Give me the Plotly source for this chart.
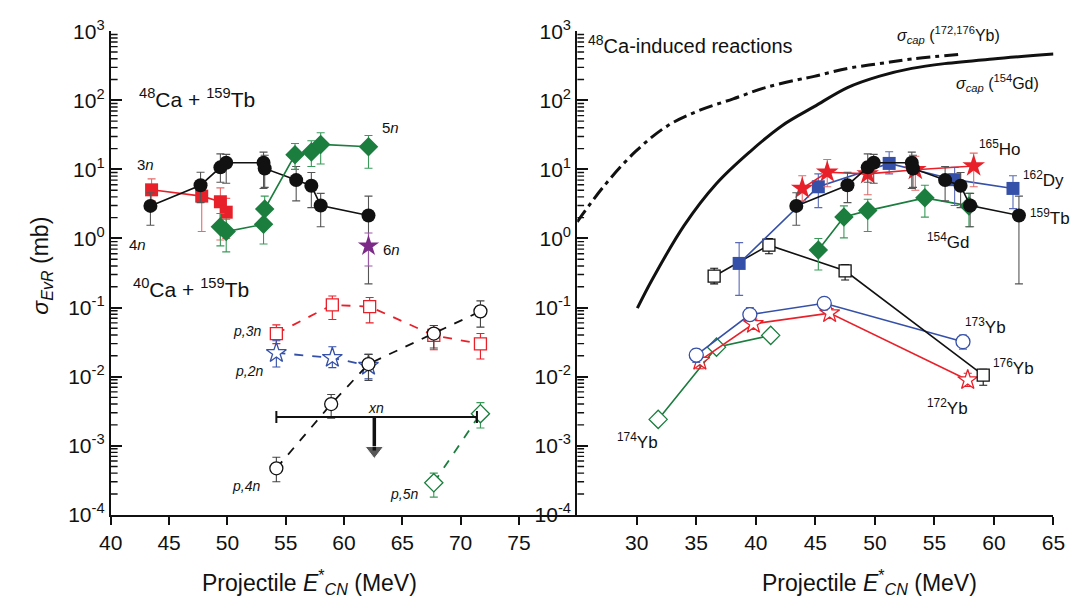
import numpy as np
import plotly.graph_objects as go

# ---------------- data ----------------
# 48Ca + 159Tb (left) and 159Tb (right)
tb_E = [43.4, 47.7, 49.4, 49.9, 53.1, 53.2, 55.9, 57.2, 58.0, 62.1]
tb_sig = [2.96, 5.9, 10.7, 12.5, 12.5, 10.3, 7.0, 5.8, 3.0, 2.15]
tb_up = [4.6, 9.1, 16.8, 16.5, 17.8, 16.0, 11.0, 9.0, 4.5, 4.1]
tb_lo = [1.55, 3.3, 6.5, 6.3, 5.3, 5.5, 3.5, 2.8, 1.48, 0.22]

n4_E = [43.5, 47.8, 49.4, 49.9]
n4_sig = [5.06, 4.1, 3.4, 2.4]
n4_up = [7.3, 6.2, 5.4, 3.8]
n4_lo = [3.5, 1.26, 0.95, 1.0]

n5_E = [49.4, 49.9, 53.1, 53.2, 55.8, 57.2, 58.0, 62.1]
n5_sig = [1.48, 1.26, 1.6, 2.67, 16.3, 17.8, 23.0, 21.3]
n5_up = [2.3, 1.9, 2.5, 4.1, 23.7, 26.0, 34.0, 31.0]
n5_lo = [0.78, 0.64, 0.83, 1.6, 10.0, 11.0, 12.0, 10.4]

n6_E = [62.1]
n6_sig = [0.78]
n6_up = [1.2]
n6_lo = [0.4]

# 40Ca + 159Tb
p3n_E = [54.2, 59.0, 62.2, 67.7, 71.7]
p3n_sig = [0.042, 0.109, 0.103, 0.0395, 0.0297]
p3n_up = [0.056, 0.147, 0.14, 0.055, 0.042]
p3n_lo = [0.03, 0.067, 0.06, 0.0245, 0.018]

p2n_E = [54.2, 59.0, 62.1]
p2n_sig = [0.022, 0.0187, 0.0144]
p2n_up = [0.033, 0.027, 0.021]
p2n_lo = [0.0138, 0.0135, 0.0093]

p4n_E = [54.2, 58.9, 62.1, 67.7, 71.7]
p4n_sig = [0.00047, 0.004, 0.0152, 0.042, 0.088]
p4n_up = [0.00068, 0.0055, 0.021, 0.055, 0.125]
p4n_lo = [0.0003, 0.0025, 0.0088, 0.026, 0.052]

p5n_E = [67.7, 71.7]
p5n_sig = [0.00029, 0.0029]
p5n_up = [0.0004, 0.0042]
p5n_lo = [0.00018, 0.0018]

xn_E_range = [54.2, 71.4]
xn_limit = 0.0026
xn_arrow_E = 62.6
xn_arrow_end = 0.00085

# right panel: 48Ca-induced reactions
ho_E = [43.9, 46.0, 49.4, 53.4, 58.3]
ho_sig = [5.3, 9.1, 8.6, 9.9, 11.2]
ho_up = [8.1, 13.9, 13.0, 15.5, 17.2]
ho_lo = [3.5, 5.6, 4.3, 5.0, 5.6]

dy_E = [38.6, 45.25, 51.2, 56.7, 61.6]
dy_sig = [0.435, 5.6, 12.2, 7.1, 5.3]
dy_up = [0.87, 8.6, 18.0, 10.7, 8.1]
dy_lo = [0.15, 2.8, 8.6, 3.0, 2.7]

gd_E = [45.25, 47.4, 49.4, 54.2, 57.9]
gd_sig = [0.68, 2.04, 2.53, 3.87, 2.96]
gd_up = [1.0, 2.96, 3.7, 5.9, 4.5]
gd_lo = [0.35, 1.02, 1.26, 2.04, 1.48]

yb176_E = [36.5, 41.1, 47.5, 59.1]
yb176_sig = [0.284, 0.80, 0.34, 0.0105]
yb176_up = [0.37, 1.0, 0.42, 0.0128]
yb176_lo = [0.22, 0.6, 0.25, 0.0075]

yb173_E = [35.0, 39.5, 45.75, 57.4]
yb173_sig = [0.0205, 0.079, 0.115, 0.032]
yb173_up = [0.025, 0.1, 0.135, 0.04]
yb173_lo = [0.016, 0.065, 0.1, 0.025]

yb172_E = [35.3, 39.8, 46.2, 57.8]
yb172_sig = [0.017, 0.058, 0.083, 0.0089]
yb172_up = [0.019, 0.068, 0.097, 0.0112]
yb172_lo = [0.013, 0.048, 0.07, 0.0072]

yb174_E = [31.8, 36.7, 41.25]
yb174_sig = [0.0024, 0.0267, 0.0395]

capYb_E = [25.0, 27.2, 29.9, 32.6, 35.3, 38.1, 40.8, 43.6, 44.9, 47.7, 50.4, 53.1, 57.4]
capYb_sig = [1.74, 5.6, 18.2, 43, 72, 105, 153, 200, 222, 290, 340, 397, 468]

capGd_E = [30.05, 31.3, 34.0, 36.7, 39.5, 42.2, 44.9, 47.7, 50.4, 53.1, 55.85, 59.9, 65.0]
capGd_sig = [0.098, 0.255, 1.56, 6.25, 18, 43, 81, 153, 224, 290, 340, 397, 468]

left_xrange = [40, 80]
right_xrange = [25, 65]
left_xticks = [40, 45, 50, 55, 60, 65, 70, 75]
right_xticks = [30, 35, 40, 45, 50, 55, 60, 65]
y_exps = [-4, -3, -2, -1, 0, 1, 2, 3]

# ---------------- styling ----------------
RED = "#e8202a"
BLUE = "#3550a8"
GREEN = "#1b7d3e"
BLACK = "#111111"
PURPLE = "#7b2a87"
FONT = "Liberation Sans, Arial, sans-serif"
W, H = 1086, 613
LEFT_PX = (101, 578)
RIGHT_PX = (578, 1065)


def px(x):
    return x / W


def py(y):
    return 1 - y / H


fig = go.Figure()


def series(E, s, up, lo, color, symbol, size, xa, ya, dash="solid", ecolor=None,
           open_=False, lw=1.6):
    err = None
    if up is not None:
        err = dict(type="data", symmetric=False,
                   array=[u - v for u, v in zip(up, s)],
                   arrayminus=[v - l for v, l in zip(s, lo)],
                   color=ecolor or color, thickness=1.1, width=4)
    marker = dict(symbol=symbol, size=size, color=("white" if open_ else color),
                  line=dict(color=color, width=1.3 if open_ else 0))
    fig.add_trace(go.Scatter(x=E, y=s, mode="lines+markers", xaxis=xa, yaxis=ya,
                             line=dict(color=color, width=lw, dash=dash),
                             marker=marker, error_y=err, showlegend=False,
                             cliponaxis=False))


# minor log ticks (inside), as short line segments
yminor = [k * 10.0 ** e for e in y_exps[:-1] for k in range(2, 10)]
for xa, ya, xr, pxr in (("x", "y", left_xrange, LEFT_PX), ("x2", "y2", right_xrange, RIGHT_PX)):
    dx = 7 * (xr[1] - xr[0]) / (pxr[1] - pxr[0])
    tx, ty = [], []
    for v in yminor:
        tx += [xr[0], xr[0] + dx, None]
        ty += [v, v, None]
    fig.add_trace(go.Scatter(x=tx, y=ty, mode="lines", xaxis=xa, yaxis=ya,
                             line=dict(color=BLACK, width=1.4), hoverinfo="skip",
                             connectgaps=False, showlegend=False))

# left panel, 40Ca dashed open symbols
series(p3n_E, p3n_sig, p3n_up, p3n_lo, RED, "square", 12, "x", "y",
       dash="dash", open_=True, lw=1.8)
series(p2n_E, p2n_sig, p2n_up, p2n_lo, BLUE, "star", 15, "x", "y",
       dash="dash", open_=True, lw=1.8)
series(p4n_E, p4n_sig, p4n_up, p4n_lo, BLACK, "circle", 13, "x", "y",
       dash="dash", open_=True, lw=1.8, ecolor="#444")
series(p5n_E, p5n_sig, p5n_up, p5n_lo, GREEN, "diamond", 14, "x", "y",
       dash="dash", open_=True, lw=1.8, ecolor="#3a9a5a")

# xn upper limit
xn_mid = (xn_E_range[0] + xn_E_range[1]) / 2
fig.add_trace(go.Scatter(x=[xn_mid], y=[xn_limit], mode="markers", xaxis="x", yaxis="y",
                         marker=dict(size=1, color="rgba(0,0,0,0)"),
                         error_x=dict(type="constant", value=(xn_E_range[1] - xn_E_range[0]) / 2,
                                      color=BLACK, thickness=2, width=6),
                         showlegend=False))
fig.add_trace(go.Scatter(x=[xn_arrow_E, xn_arrow_E], y=[xn_limit, xn_arrow_end],
                         mode="lines+markers", xaxis="x", yaxis="y",
                         line=dict(color=BLACK, width=3.5),
                         marker=dict(symbol="triangle-down", size=[0, 16], color=BLACK),
                         showlegend=False))

# left panel, 48Ca filled
series(n4_E, n4_sig, n4_up, n4_lo, RED, "square", 13, "x", "y", ecolor="#e86a6a")
series(tb_E, tb_sig, tb_up, tb_lo, BLACK, "circle", 14, "x", "y", ecolor="#555")
series(n5_E, n5_sig, n5_up, n5_lo, GREEN, "diamond", 15, "x", "y", ecolor="#3a9a5a")
series(n6_E, n6_sig, n6_up, n6_lo, PURPLE, "star", 16, "x", "y", ecolor="#9a5aa6")

# right panel capture curves
fig.add_trace(go.Scatter(x=capYb_E, y=capYb_sig, mode="lines", xaxis="x2", yaxis="y2",
                         line=dict(color=BLACK, width=3, dash="14px,5px,4px,5px",
                                   shape="spline"),
                         showlegend=False))
fig.add_trace(go.Scatter(x=capGd_E, y=capGd_sig, mode="lines", xaxis="x2", yaxis="y2",
                         line=dict(color=BLACK, width=3, shape="spline"),
                         showlegend=False))

# right panel open (Yb)
series(yb174_E, yb174_sig, None, None, GREEN, "diamond", 14, "x2", "y2", open_=True)
series(yb172_E, yb172_sig, yb172_up, yb172_lo, RED, "star", 15, "x2", "y2", open_=True)
series(yb173_E, yb173_sig, yb173_up, yb173_lo, BLUE, "circle", 14, "x2", "y2",
       open_=True, ecolor="#5a6ab8")
series(yb176_E, yb176_sig, yb176_up, yb176_lo, BLACK, "square", 12, "x2", "y2",
       open_=True)

# right panel filled
series(gd_E, gd_sig, gd_up, gd_lo, GREEN, "diamond", 15, "x2", "y2", ecolor="#3a9a5a")
series(dy_E, dy_sig, dy_up, dy_lo, BLUE, "square", 13, "x2", "y2", ecolor="#5a6ab8")
series(ho_E, ho_sig, ho_up, ho_lo, RED, "star", 17, "x2", "y2", ecolor="#e86a6a")
series(tb_E, tb_sig, tb_up, tb_lo, BLACK, "circle", 14, "x2", "y2", ecolor="#555")

# ---------------- axes ----------------
ytext = [f"10<sup>{e}</sup>" for e in y_exps]
yvals = [10.0 ** e for e in y_exps]
ydom = [py(522), py(18)]
yax = dict(type="log", range=[-4, 3], domain=ydom, tickmode="array",
           tickvals=yvals, ticktext=ytext,
           ticks="inside", ticklen=11, tickwidth=2, tickcolor=BLACK,
           showline=True, linewidth=2,
           linecolor=BLACK, showgrid=False, zeroline=False,
           tickfont=dict(size=21, color=BLACK, family=FONT))
xax = dict(ticks="outside", ticklen=8, tickwidth=1.5, tickcolor=BLACK,
           showline=True, linewidth=2,
           linecolor=BLACK, showgrid=False, zeroline=False,
           tickfont=dict(size=21, color=BLACK, family=FONT))

fig.update_layout(
    width=W, height=H, margin=dict(l=0, r=0, t=0, b=0),
    paper_bgcolor="white", plot_bgcolor="white",
    font=dict(family=FONT, color=BLACK),
    xaxis=dict(xax, domain=[px(LEFT_PX[0]), px(LEFT_PX[1])], range=left_xrange,
               tickvals=left_xticks, anchor="y"),
    yaxis=dict(yax, anchor="x"),
    xaxis2=dict(xax, domain=[px(RIGHT_PX[0]), px(RIGHT_PX[1])], range=right_xrange,
                tickvals=right_xticks, anchor="y2"),
    yaxis2=dict(yax, anchor="x2"),
)

# ---------------- annotations ----------------
def label(x, y, text, size=16, xanchor="center", italic=False, angle=0):
    if italic:
        text = f"<i>{text}</i>"
    fig.add_annotation(x=px(x), y=py(y), xref="paper", yref="paper", text=text,
                       showarrow=False, xanchor=xanchor, yanchor="middle",
                       textangle=angle, font=dict(size=size, color=BLACK, family=FONT))


label(128, 88, "<sup>48</sup>Ca + <sup>159</sup>Tb", 21, "left")
label(122, 286, "<sup>40</sup>Ca + <sup>159</sup>Tb", 21, "left")
label(137, 157, "3<i>n</i>", 15)
label(128, 240, "4<i>n</i>", 15)
label(387, 118, "5<i>n</i>", 15)
label(388, 245, "6<i>n</i>", 15)
label(240, 330, "p,3n", 14, italic=True)
label(242, 372, "p,2n", 14, italic=True)
label(239, 492, "p,4n", 14, italic=True)
label(401, 500, "p,5n", 14, italic=True)
label(372, 411, "xn", 14, italic=True)

label(587, 32, "<sup>48</sup>Ca-induced reactions", 20, "left")
label(903, 22, "<i>σ</i><sub><i>cap</i></sub> (<sup>172,176</sup>Yb)", 16, "left")
label(963, 72, "<i>σ</i><sub><i>cap</i></sub> (<sup>154</sup>Gd)", 16, "left")
label(987, 140, "<sup>165</sup>Ho", 17, "left")
label(1032, 172, "<sup>162</sup>Dy", 17, "left")
label(1039, 212, "<sup>159</sup>Tb", 17, "left")
label(934, 237, "<sup>154</sup>Gd", 17, "left")
label(972, 325, "<sup>173</sup>Yb", 17, "left")
label(1001, 368, "<sup>176</sup>Yb", 17, "left")
label(934, 410, "<sup>172</sup>Yb", 17, "left")
label(617, 445, "<sup>174</sup>Yb", 17, "left")

xtitle = "Projectile <i>E</i><sup>*</sup><sub><i>CN</i></sub> (MeV)"
label(304, 592, xtitle, 23)
label(877, 592, xtitle, 23)
label(30, 262, "<i>σ</i><sub><i>EvR</i></sub> (mb)", 23, angle=-90)

fig.write_html("out.html")
